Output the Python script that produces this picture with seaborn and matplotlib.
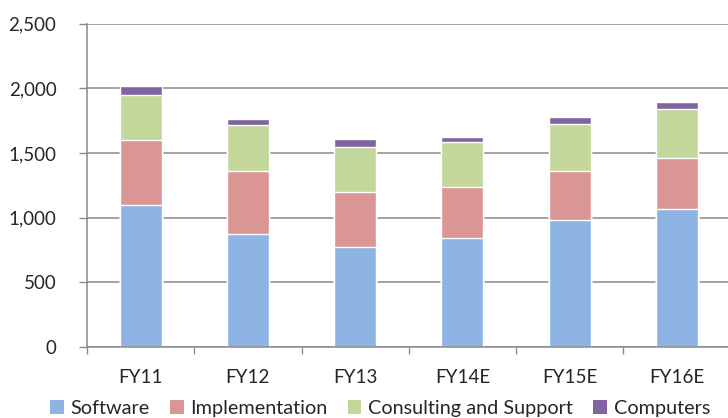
import numpy as np
import pandas as pd
import seaborn as sns
import matplotlib
matplotlib.use('Agg')
import matplotlib.pyplot as plt
from matplotlib.patches import Patch

years = ['FY11', 'FY12', 'FY13', 'FY14E', 'FY15E', 'FY16E']
software = [1100, 870, 775, 845, 980, 1070]
implementation = [500, 490, 420, 390, 380, 395]
consulting = [350, 355, 355, 348, 362, 377]
computers = [70, 47, 57, 44, 58, 57]

series = ['Software', 'Implementation', 'Consulting and Support', 'Computers']
colors = ['#8DB4E2', '#DA9694', '#C4D79B', '#8064A2']

sns.set_theme(style='white')
plt.rcParams['font.family'] = ['Lato', 'DejaVu Sans']

df = pd.DataFrame({'year': years, 'Software': software, 'Implementation': implementation,
                   'Consulting and Support': consulting, 'Computers': computers})
# cumulative tops so the bars can be drawn over each other
cum = df[series].cumsum(axis=1)
cum['year'] = df['year']

fig = plt.figure(figsize=(7.28, 4.18), dpi=100)
ax = fig.add_axes([0.1195, 0.170, 0.884, 0.773])

for name, col in reversed(list(zip(series, colors))):
    sns.barplot(data=cum, x='year', y=name, color=col, width=0.39,
                saturation=1, ax=ax, zorder=2)

ax.set_ylim(0, 2500)
ax.set_yticks(np.arange(0, 2501, 500))
ax.set_yticklabels([f'{v:,}' for v in range(0, 2501, 500)], fontsize=13.5)
ax.yaxis.grid(True, color='#8a8a8a', linewidth=1.1, zorder=0)
ax.set_axisbelow(True)
ax.set_xlim(-0.5, 5.5)
ax.set_xlabel('')
ax.set_ylabel('')
ax.tick_params(axis='x', labelsize=13.5, length=0, pad=16)
ax.tick_params(axis='y', length=6, width=1, color='#8a8a8a', direction='out', pad=16, left=True)
# category boundary ticks on the x axis
ax.set_xticks(np.arange(-0.5, 5.6, 1), minor=True)
ax.tick_params(axis='x', which='minor', length=5, width=1, color='#8a8a8a', direction='out', bottom=True)
for s in ['top', 'right']:
    ax.spines[s].set_visible(False)
for s in ['left', 'bottom']:
    ax.spines[s].set_color('#8a8a8a')
    ax.spines[s].set_linewidth(1.1)

handles = [Patch(facecolor=c, edgecolor='none') for c in colors]
fig.legend(handles, series, loc='lower center', bbox_to_anchor=(0.522, -0.04), ncol=4,
           frameon=False, fontsize=14.3, handlelength=0.7, handleheight=0.7,
           handletextpad=0.35, columnspacing=1.0)

fig.savefig('out.png', dpi=100)
